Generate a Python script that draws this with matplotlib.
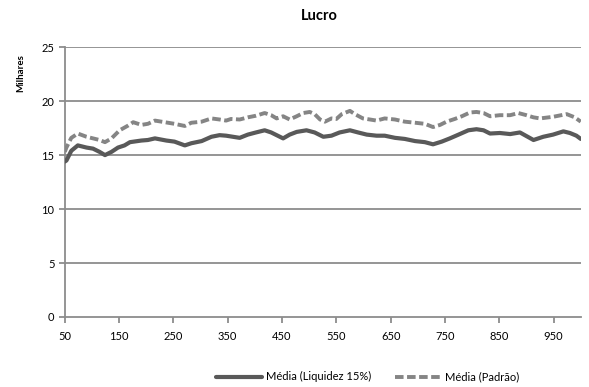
import matplotlib
matplotlib.use('Agg')
import matplotlib.pyplot as plt

plt.rcParams['font.family'] = ['Lato', 'DejaVu Sans']

# Média (Liquidez 15%)
x_liq = [50, 53, 62, 74, 90, 102, 114, 124, 136, 148, 160, 170, 191, 203, 216, 237,
         252, 271, 283, 302, 320, 335, 347, 372, 387, 402, 418, 430, 440, 452, 464,
         477, 495, 510, 526, 541, 556, 575, 590, 606, 624, 639, 658, 676, 695, 713,
         728, 744, 759, 775, 793, 808, 821, 833, 851, 870, 888, 913, 931, 949, 968,
         980, 992, 1000]
y_liq = [14.4, 14.5, 15.4, 15.9, 15.7, 15.6, 15.3, 15.0, 15.3, 15.7, 15.9, 16.2, 16.35,
         16.4, 16.55, 16.35, 16.25, 15.9, 16.1, 16.3, 16.7, 16.85, 16.8, 16.6, 16.9,
         17.1, 17.3, 17.1, 16.85, 16.55, 16.9, 17.15, 17.3, 17.1, 16.7, 16.8, 17.1,
         17.3, 17.1, 16.9, 16.8, 16.8, 16.6, 16.5, 16.3, 16.2, 16.0, 16.25, 16.55,
         16.9, 17.3, 17.4, 17.3, 17.0, 17.05, 16.95, 17.1, 16.4, 16.7, 16.9, 17.2,
         17.05, 16.8, 16.5]

# Média (Padrão)
x_pad = [50, 53, 62, 74, 90, 102, 114, 124, 136, 151, 167, 176, 191, 203, 216, 234,
         252, 271, 283, 302, 320, 335, 347, 356, 372, 387, 402, 418, 430, 440, 452,
         464, 477, 489, 501, 510, 520, 529, 541, 550, 560, 575, 584, 599, 612, 624,
         639, 658, 676, 695, 713, 728, 741, 753, 768, 781, 796, 808, 821, 833, 851,
         870, 885, 900, 913, 925, 949, 974, 989, 1000]
y_pad = [15.3, 15.7, 16.6, 17.0, 16.7, 16.55, 16.4, 16.2, 16.55, 17.3, 17.75, 18.05,
         17.8, 17.9, 18.2, 18.05, 17.9, 17.7, 18.0, 18.1, 18.4, 18.3, 18.2, 18.35,
         18.3, 18.5, 18.65, 18.9, 18.7, 18.4, 18.6, 18.3, 18.6, 18.9, 19.0, 18.8,
         18.3, 18.1, 18.4, 18.35, 18.8, 19.1, 18.8, 18.4, 18.3, 18.2, 18.4, 18.3,
         18.1, 18.0, 17.9, 17.6, 17.8, 18.1, 18.35, 18.6, 18.95, 19.0, 18.9, 18.6,
         18.7, 18.7, 18.9, 18.7, 18.5, 18.4, 18.55, 18.8, 18.5, 18.1]

x_ticks = list(range(50, 1000, 100))
y_ticks = [0, 5, 10, 15, 20, 25]

fig = plt.figure(figsize=(5.89, 3.87), dpi=100)
ax = fig.add_axes([0.110, 0.181, 0.876, 0.697])

grid_col = '#8c8c8c'
for v in y_ticks[1:]:
    ax.axhline(v, color=grid_col, lw=1.3, zorder=1)

ax.plot(x_liq, y_liq, color='#595959', lw=3.0, solid_capstyle='round',
        label='Média (Liquidez 15%)', zorder=3)
ax.plot(x_pad, y_pad, color='#858585', lw=2.8, dashes=(2.2, 0.9),
        label='Média (Padrão)', zorder=3)

ax.set_xlim(50, 1000)
ax.set_ylim(0, 25)
ax.set_xticks(x_ticks)
ax.set_yticks(y_ticks)
ax.tick_params(axis='both', labelsize=8, color=grid_col, width=1.3, length=4,
               labelcolor='black')
ax.tick_params(axis='x', pad=6)
for s in ['top', 'right']:
    ax.spines[s].set_visible(False)
for s in ['left', 'bottom']:
    ax.spines[s].set_color(grid_col)
    ax.spines[s].set_linewidth(1.3)

fig.text(0.542, 0.958, 'Lucro', ha='center', va='center', fontsize=10.5, fontweight='bold')
fig.text(0.035, 0.81, 'Milhares', ha='center', va='center', rotation=90,
         fontsize=7, fontweight='bold')

fig.legend(loc='center', bbox_to_anchor=(0.624, 0.026), ncol=2, frameon=False,
           fontsize=8, handlelength=4.2, columnspacing=2.2, handletextpad=0.3)

fig.savefig('out.png', dpi=100)
